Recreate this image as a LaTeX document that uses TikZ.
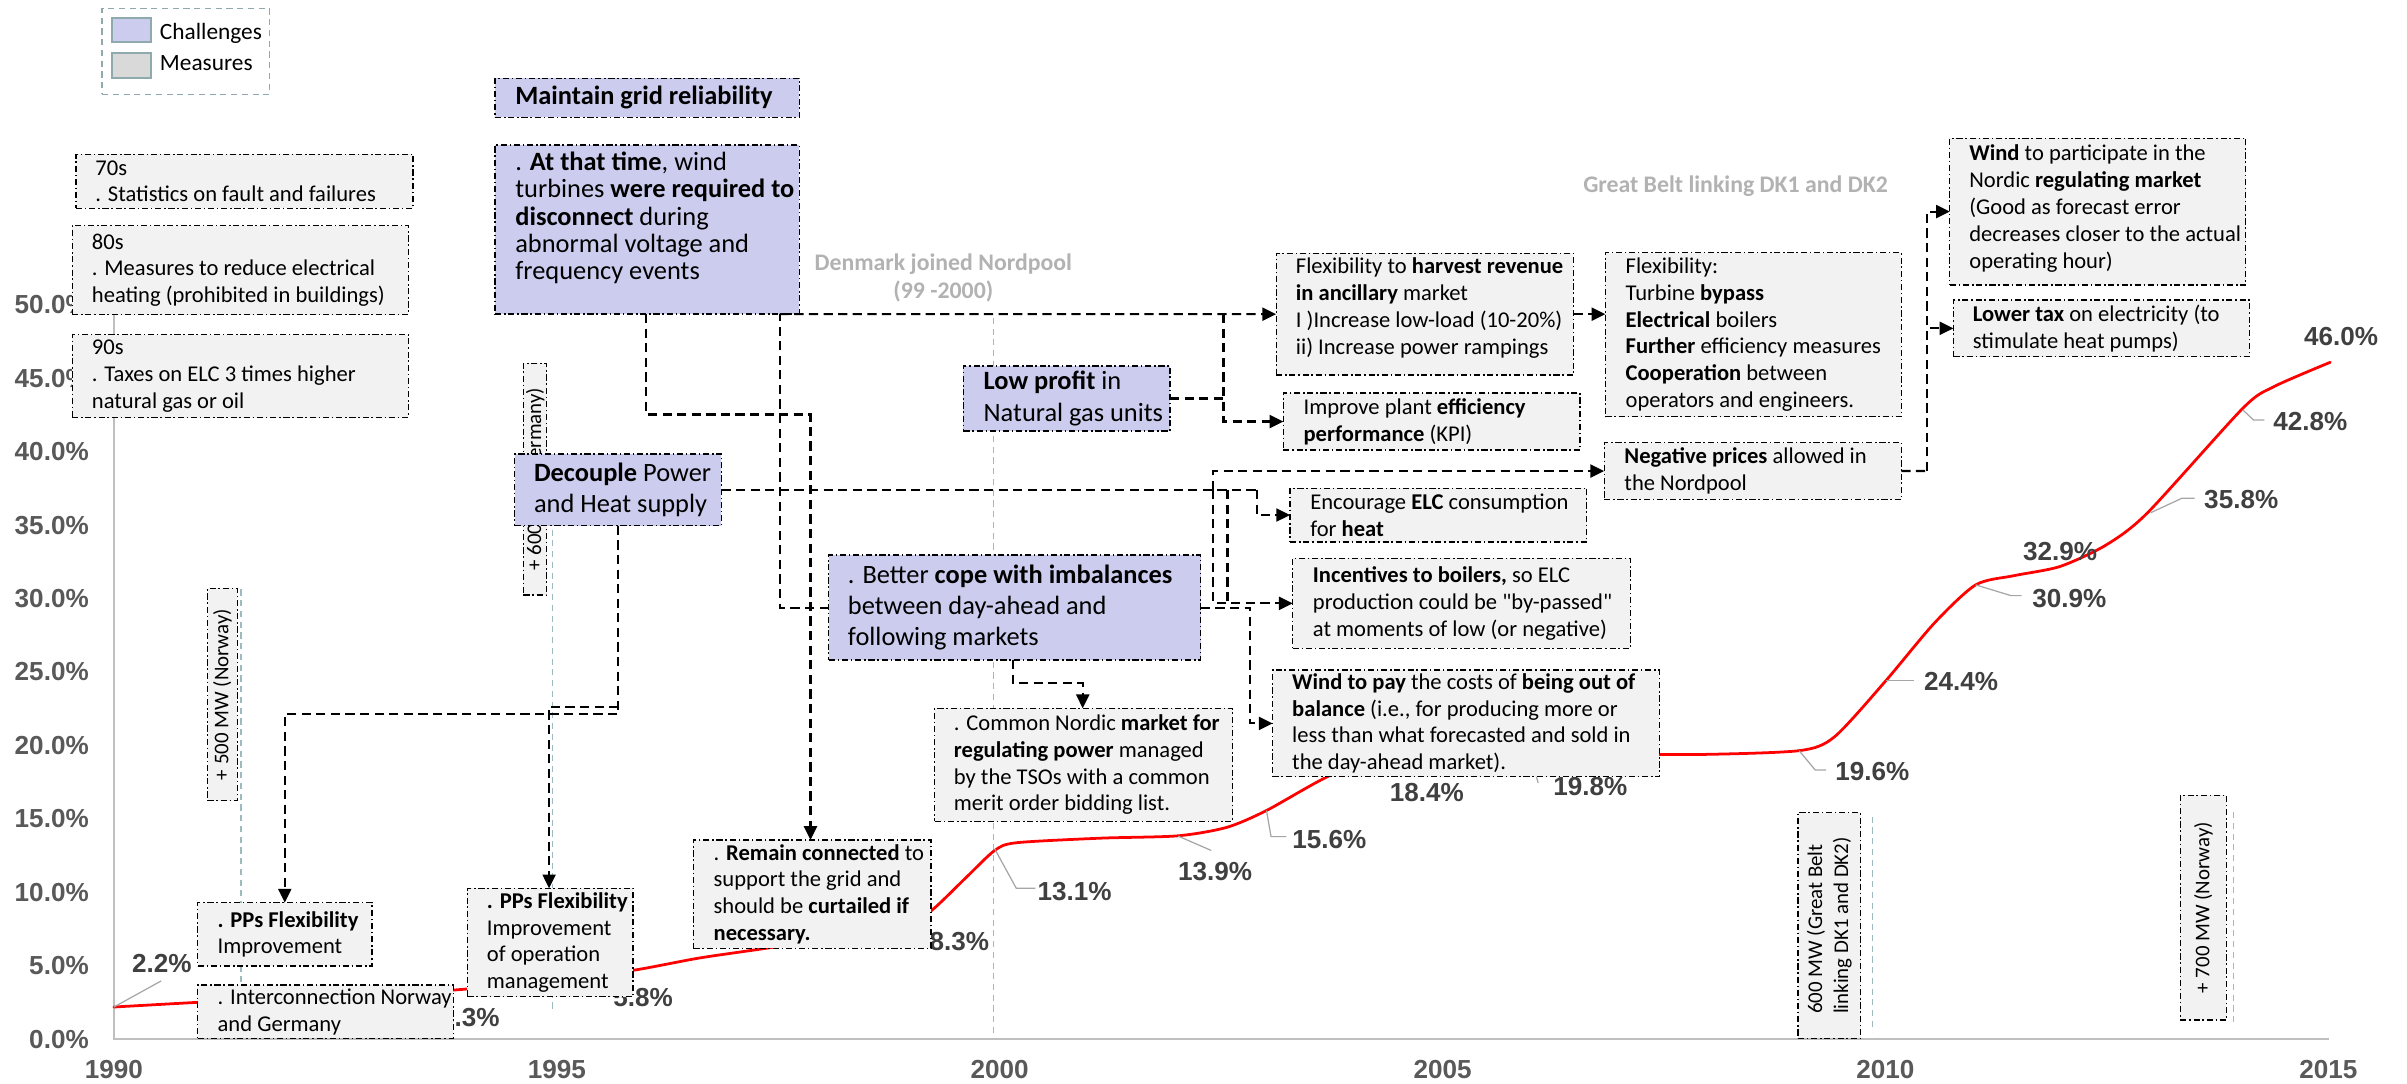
\documentclass[tikz,border=0pt]{standalone}
\usepackage{fontspec}
\setmainfont{Carlito}
\newfontfamily\noligc{Carlito}[Ligatures=TeXOff]
\newfontfamily\arialf{Liberation Sans}
\usetikzlibrary{arrows.meta}
\definecolor{chal}{RGB}{204,204,238}
\definecolor{meas}{RGB}{242,242,242}
\definecolor{legmeas}{RGB}{217,217,217}
\definecolor{legbd}{RGB}{143,170,172}
\definecolor{tealdash}{RGB}{156,187,190}
\definecolor{axisgray}{RGB}{191,191,191}
\definecolor{axtxt}{RGB}{89,89,89}
\definecolor{dltxt}{RGB}{64,64,64}
\definecolor{lightlbl}{RGB}{178,178,178}
\definecolor{leadc}{RGB}{166,166,166}
\tikzset{
  boxc/.style={draw=black, fill=chal, line width=0.8pt, dash pattern=on 4pt off 1.8pt on 1pt off 1.8pt, inner sep=0pt, outer sep=0pt},
  boxm/.style={draw=black, fill=meas, line width=0.8pt, dash pattern=on 4pt off 1.8pt on 1pt off 1.8pt, inner sep=0pt, outer sep=0pt},
  txtc/.style={font=\fontsize{17.2}{18.5}\selectfont, anchor=west, align=left, inner sep=0pt, text=black},
  txtm/.style={font=\fontsize{14.7}{17.5}\selectfont, anchor=west, align=left, inner sep=0pt, text=black},
  vtext/.style={rotate=90, font=\fontsize{13.6}{17}\selectfont, align=left, inner sep=0pt, text=black},
  conn/.style={draw=black, line width=1.4pt, dash pattern=on 6pt off 3.5pt},
  arr/.style={-{Triangle[length=9pt,width=8.5pt]}},
  tealline/.style={draw=tealdash, line width=0.8pt, dash pattern=on 4pt off 3pt},
  axlbl/.style={font=\arialf\bfseries\fontsize{17}{17}\selectfont, text=axtxt, inner sep=0pt},
  dlbl/.style={font=\arialf\bfseries\fontsize{17}{17}\selectfont, text=dltxt, inner sep=0pt},
  graylbl/.style={font=\bfseries\fontsize{15.5}{18.4}\selectfont, text=lightlbl, inner sep=0pt},
  leaderl/.style={draw=leadc, line width=0.8pt},
}
\newcommand\mkbox[6]{\node[#2, minimum width={(#5)-(#3)}, minimum height={(#6)-(#4)}, anchor=north west] (#1) at (#3,#4) {};}
\begin{document}
\begin{tikzpicture}[x=1pt,y=-1pt]
\fill[white] (0,0) rectangle (1568,706);
\useasboundingbox (0,0) rectangle (1568,706);

% teal dashed year markers
\draw[tealline] (157,384) -- (157,643);
\draw[tealline] (360,345) -- (360,660);
\draw[tealline] (647,207) -- (647,677);
\draw[tealline] (1220,532) -- (1220,672);
\draw[tealline] (1455,529) -- (1455,669);

% axes
\draw[axisgray, line width=1.2pt] (74.2,200) -- (74.2,677) -- (1517,677);
\foreach \v in {0,5,...,50} \node[axlbl, anchor=east] (y\v) at (58,{677-9.57*\v}) {\v.0\%};
\foreach \yr [count=\i from 0] in {1990,1995,2000,2005,2010,2015} \node[axlbl] (yr\yr) at ({74.2+288.5*\i},697) {\yr};

% red curve
\draw[red, line width=1.8pt, line cap=round] plot[smooth, tension=0.45] coordinates {
(74.2,656) (128,653) (189,650) (247,647.5) (295,645) (360,639) (413,632) (456,624) (504,617) (560,608) (593,600) (607,593) (630,571) (648,554) (662,549) (717,546) (767,544.5) (799,539) (825,528) (869,504) (900,499) (938,497) (996,489) (1053,491) (1107,491.5) (1172,489) (1195,480) (1228,444) (1260,406) (1287,381) (1312,375) (1342,369) (1372,355) (1399,334) (1461,266) (1481,252) (1518,236)};

% data labels
\draw[leaderl] (74.2,656) -- (105,639);
\node[dlbl] (d1990) at (105.5,627.5) {2.2\%};
\node[dlbl] (d1994) at (306,663) {3.3\%};
\node[dlbl] (d1996) at (419,649.5) {5.8\%};
\node[dlbl] (d1999) at (625,613.5) {8.3\%};
\draw[leaderl] (648,553) -- (662,578.6) -- (674.5,578.6);
\node[dlbl] (d2000) at (700,581) {13.1\%};
\draw[leaderl] (767.6,544.7) -- (789,554);
\node[dlbl] (d2002) at (791.5,568) {13.9\%};
\draw[leaderl] (825,528) -- (828,545) -- (838,545);
\node[dlbl] (d2003) at (866,546.6) {15.6\%};
\node[dlbl] (d2005) at (929.5,516) {18.4\%};
\draw[leaderl] (996,489) -- (1002,510);
\node[dlbl] (d2006) at (1036,512.5) {19.8\%};
\draw[leaderl] (1172,489) -- (1182.5,501.6) -- (1189.6,501.6);
\node[dlbl] (d2009) at (1219.7,502.7) {19.6\%};
\draw[leaderl] (1228.5,443.4) -- (1247,443.4);
\node[dlbl] (d2010) at (1277.5,444) {24.4\%};
\draw[leaderl] (1287,381) -- (1310,388) -- (1317,388);
\node[dlbl] (d2011) at (1348,389.6) {30.9\%};
\node[dlbl] (d2012) at (1342,359) {32.9\%};
\draw[leaderl] (1401,334) -- (1421.5,324.5) -- (1429.7,324.5);
\node[dlbl] (d2013) at (1460,325.7) {35.8\%};
\draw[leaderl] (1461,267) -- (1468,273.6) -- (1475,273.6);
\node[dlbl] (d2014) at (1505,274.7) {42.8\%};
\node[dlbl] (d2015) at (1525,219) {46.0\%};

% light gray labels
\node[graylbl, align=center] (dk) at (614.5,181) {Denmark joined Nordpool\\(99 -2000)};
\node[graylbl, anchor=east] (gb) at (1230,121.6) {Great Belt linking DK1 and DK2};

% vertical boxes
\mkbox{v500}{boxm}{135.2}{383.3}{154.7}{521.6}
\node[vtext] (tv500) at (v500.center) {+ 500 MW (Norway)};
\mkbox{v600}{boxm}{341}{236.7}{356.1}{387.6}
\node[vtext] (tv600) at (v600.center) {+ 600 MW (Germany)};
\mkbox{vgb}{boxm}{1171.2}{529.4}{1212}{676.4}
\node[vtext] (tvgb) at (vgb.center) {600 MW (Great Belt\\linking DK1 and DK2)};
\mkbox{v700}{boxm}{1420.3}{518}{1450.3}{664.5}
\node[vtext] (tv700) at (v700.center) {+ 700 MW (Norway)};

% measures boxes
\mkbox{b70}{boxm}{49.5}{100.5}{269}{135.7}
\node[txtm] (t70) at ([xshift=12.5pt]b70.west) {70s\\. Statistics on fault and failures};
\mkbox{b80}{boxm}{47}{147}{266}{205}
\node[txtm] (t80) at ([xshift=12.7pt]b80.west) {80s\\. Measures to reduce electrical\\heating (prohibited in buildings)};
\mkbox{b90}{boxm}{47}{218}{266}{272}
\node[txtm] (t90) at ([xshift=12.7pt]b90.west) {90s\\. Taxes on ELC 3 times higher\\natural gas or oil};
\mkbox{FlexH}{boxm}{831.3}{165}{1025}{244.3}
\node[txtm] (tFlexH) at ([xshift=12.7pt,yshift=4pt]FlexH.west) {Flexibility to \textbf{harvest revenue}\\\textbf{in ancillary} market\\I )Increase low-load (10-20\%)\\ii) Increase power rampings};
\mkbox{Improve}{boxm}{836}{256}{1029.3}{293.2}
\node[txtm] (tImprove) at ([xshift=13pt]Improve.west) {Improve plant \textbf{efficiency}\\\textbf{performance} (KPI)};
\mkbox{Turbine}{boxm}{1045.8}{164.6}{1238.6}{271.4}
\node[txtm] (tTurbine) at ([xshift=13pt]Turbine.west) {Flexibility:\\Turbine \textbf{bypass}\\\textbf{Electrical} boilers\\\textbf{Further} efficiency measures\\\textbf{Cooperation} between\\operators and engineers.};
\mkbox{NegPrices}{boxm}{1045}{288.4}{1238.6}{325.3}
\node[txtm] (tNeg) at ([xshift=13pt]NegPrices.west) {\textbf{Negative prices} allowed in\\the Nordpool};
\mkbox{WindPart}{boxm}{1270.2}{90}{1463}{185.7}
\node[txtm] (tWindPart) at ([xshift=12.5pt,yshift=2pt]WindPart.west) {\textbf{Wind} to participate in the\\Nordic \textbf{regulating market}\\(Good as forecast error\\decreases closer to the actual\\operating hour)};
\mkbox{LowerTax}{boxm}{1272.5}{195.4}{1465.3}{232.4}
\node[txtm] (tLowerTax) at ([xshift=12.5pt]LowerTax.west) {\textbf{Lower tax} on electricity (to\\stimulate heat pumps)};
\mkbox{Encourage}{boxm}{840.4}{318}{1033.7}{353}
\node[txtm] (tEnc) at ([xshift=13pt]Encourage.west) {Encourage \textbf{ELC} consumption\\for \textbf{heat}};
\mkbox{Incentives}{boxm}{842.1}{363.7}{1061.9}{422.4}
\node[txtm] (tInc) at ([xshift=13pt]Incentives.west) {\textbf{Incentives to boilers,} so ELC\\production could be {\noligc "}by-passed{\noligc "}\\at moments of low (or negative)};
\mkbox{WindPay}{boxm}{829}{436.5}{1081}{506}
\node[txtm] (tWindPay) at ([xshift=12.6pt]WindPay.west) {\textbf{Wind to pay} the costs of \textbf{being out of}\\\textbf{balance} (i.e., for producing more or\\less than what forecasted and sold in\\the day-ahead market).};
\mkbox{Common}{boxm}{609}{461.4}{803}{534.9}
\node[txtm] (tCommon) at ([xshift=12.2pt]Common.west) {. Common Nordic \textbf{market for}\\\textbf{regulating power} managed\\by the TSOs with a common\\merit order bidding list.};
\mkbox{Remain}{boxm}{451.7}{547.2}{606.5}{617.8}
\node[txtm] (tRemain) at ([xshift=13pt]Remain.west) {. \textbf{Remain connected} to\\support the grid and\\should be \textbf{curtailed if}\\\textbf{necessary.}};
\mkbox{PPs1}{boxm}{128.8}{588}{242.3}{629.3}
\node[txtm] (tPPs1) at ([xshift=12.8pt]PPs1.west) {\textbf{. PPs Flexibility}\\Improvement};
\mkbox{Inter}{boxm}{128.8}{641.7}{295.2}{676.4}
\node[txtm] (tInter) at ([xshift=12.8pt]Inter.west) {. Interconnection Norway\\and Germany};
\mkbox{PPs2}{boxm}{304.5}{578.7}{412.4}{649.3}
\node[txtm] (tPPs2) at ([xshift=12.5pt]PPs2.west) {\textbf{. PPs Flexibility}\\Improvement\\of operation\\management};

% challenge boxes
\mkbox{Maintain}{boxc}{322.5}{51}{520.7}{76.4}
\node[txtc] (tMaintain) at ([xshift=13pt]Maintain.west) {\textbf{Maintain grid reliability}};
\mkbox{AtThat}{boxc}{322.5}{94.5}{520.7}{204.6}
\node[txtc, font=\fontsize{17.2}{17.8}\selectfont] (tAtThat) at ([xshift=13pt,yshift=7.5pt]AtThat.west) {. \textbf{At that time}, wind\\turbines \textbf{were required to}\\\textbf{disconnect} during\\abnormal voltage and\\frequency events};
\mkbox{LowProfit}{boxc}{627.6}{238.4}{762.2}{280.8}
\node[txtc, font=\fontsize{17.2}{20.6}\selectfont] (tLowProfit) at ([xshift=13pt]LowProfit.west) {\textbf{Low profit} in\\Natural gas units};
\mkbox{Decouple}{boxc}{335.4}{295.8}{470}{342.5}
\node[txtc, font=\fontsize{17.2}{20}\selectfont] (tDecouple) at ([xshift=12.3pt]Decouple.west) {\textbf{Decouple} Power\\and Heat supply};
\mkbox{BetterCope}{boxc}{539.9}{361.6}{782.2}{430}
\node[txtc, font=\fontsize{17.2}{20.3}\selectfont] (tBetter) at ([xshift=12.3pt]BetterCope.west) {. Better \textbf{cope with imbalances}\\between day-ahead and\\following markets};

% legend
\node[draw=legbd, line width=1pt, dash pattern=on 4pt off 3pt, minimum width=109, minimum height=56, anchor=north west, inner sep=0pt] (legend) at (66,5) {};
\node[draw=legbd, fill=chal, line width=1.3pt, minimum width=26, minimum height=16, anchor=north west, inner sep=0pt] (swc) at (72,11) {};
\node[draw=legbd, fill=legmeas, line width=1.3pt, minimum width=26, minimum height=16, anchor=north west, inner sep=0pt] (swm) at (72,34) {};
\node[anchor=base west, inner sep=0pt, font=\fontsize{15.2}{18}\selectfont] (lc) at (104,26) {Challenges};
\node[anchor=base west, inner sep=0pt, font=\fontsize{15.2}{18}\selectfont] (lm) at (104,46) {Measures};

% connectors
\coordinate (x421) at (421,0);
\coordinate (x508) at (508,0);
\coordinate (k1) at (528,270);
\coordinate (k2) at (508,204.6);
\coordinate (k3) at (797,204.6);
\coordinate (k4) at (790.4,319.15);
\coordinate (k5) at (799.6,319.15);
\coordinate (k6) at (818.7,319.15);
\coordinate (k7) at (814.3,395.8);
\coordinate (k8) at (660,445.2);
\coordinate (k9) at (705.3,445.2);
\coordinate (x403) at (402.8,0);
\coordinate (k10) at (185.5,465.2);
\coordinate (k11) at (402.8,460.4);
\coordinate (k12) at (357.7,460.4);
\coordinate (k13) at (1255.2,306.85);

\draw[conn,arr] (AtThat.south -| x421) |- (k1) -- (Remain.north -| k1);
\draw[conn,arr] (AtThat.south -| x508) -- (FlexH.west);
\draw[conn] (BetterCope.west) -| (k2);
\draw[conn, line width=2.2pt] (LowProfit.east) -- (LowProfit.east -| k3);
\draw[conn,arr] (k3) |- (Improve.west);
\draw[conn,arr] (FlexH.east) -- (FlexH.east -| Turbine.west);
\draw[conn] (Decouple.east) -- (k6);
\draw[conn,arr] (k6) |- (Encourage.west);
\draw[conn,arr] (k4) |- (NegPrices.west);
\draw[conn,arr] (k4) |- (Incentives.west);
\draw[conn] (k5) -- (k5 |- Incentives.west);
\draw[conn,arr] (BetterCope.east) -- (k7) |- (WindPay.west);
\draw[conn,arr] (BetterCope.south -| k8) |- (k9) -- (Common.north -| k9);
\draw[conn,arr] (Decouple.south -| x403) |- (k10) -- (PPs1.north -| k10);
\draw[conn,arr] (k11) -- (k12) -- (PPs2.north -| k12);
\draw[conn] (NegPrices.east) -- (k13);
\draw[conn,arr] (k13) |- (WindPart.west);
\draw[conn,arr] (k13) |- (LowerTax.west);
\end{tikzpicture}
\end{document}
